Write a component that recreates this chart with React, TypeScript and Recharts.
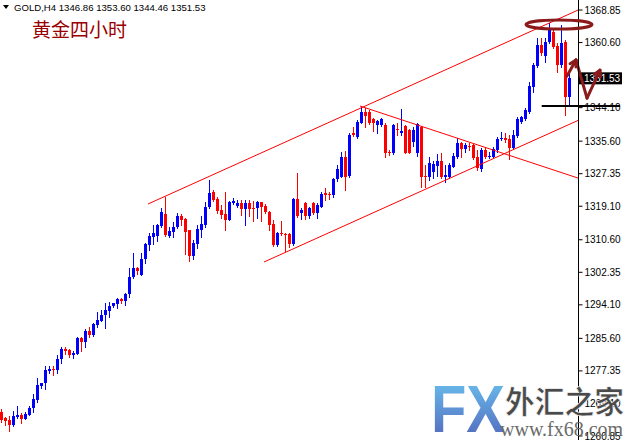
import React from 'react';
import { ComposedChart, Bar, XAxis, YAxis, ReferenceLine, ReferenceDot } from 'recharts';

const opens = [
  1267.0, 1265.4, 1264.9, 1263.6, 1265.6, 1266.2, 1265.2, 1266.2, 1267.9, 1270.0,
  1273.5, 1274.4, 1277.3, 1277.9, 1277.6, 1280.3, 1282.9, 1282.6, 1281.5, 1281.7,
  1285.6, 1284.7, 1287.5, 1286.4, 1289.1, 1290.1, 1291.4, 1292.6, 1293.9, 1294.2,
  1295.6, 1295.1, 1296.8, 1301.1, 1303.4, 1301.7, 1305.6, 1309.3, 1311.4, 1311.5,
  1314.1, 1317.1, 1311.6, 1312.6, 1313.8, 1316.6, 1315.9, 1313.1, 1306.6, 1309.5,
  1313.1, 1314.3, 1318.8, 1322.6, 1320.9, 1318.1, 1317.1, 1315.6, 1319.8, 1319.2,
  1319.8, 1318.4, 1319.8, 1318.7, 1318.6, 1320.1, 1319.2, 1317.7, 1314.6, 1309.3,
  1312.2, 1312.1, 1312.1, 1309.5, 1320.9, 1317.5, 1319.8, 1316.5, 1319.8, 1317.3,
  1319.0, 1322.4, 1322.1, 1321.9, 1325.9, 1326.6, 1331.7, 1326.8, 1337.7, 1336.7,
  1340.3, 1343.1, 1343.1, 1341.1, 1339.7, 1339.7, 1339.7, 1332.9, 1332.5, 1338.6,
  1337.7, 1339.4, 1338.4, 1335.5, 1332.5, 1339.3, 1326.8, 1326.6, 1327.7, 1329.3,
  1330.6, 1326.6, 1326.4, 1329.1, 1331.7, 1335.1, 1333.5, 1334.4, 1334.6, 1331.7,
  1328.5, 1333.4, 1331.5, 1331.7, 1333.4, 1336.1, 1336.5, 1336.1, 1333.8, 1336.9,
  1340.5, 1341.1, 1343.1, 1349.3, 1354.7, 1360.0, 1357.2, 1360.8, 1363.4, 1359.7,
  1354.9, 1360.8, 1346.86,
];
const highs = [
  1267.7, 1265.7, 1265.9, 1267.2, 1268.5, 1266.7, 1266.9, 1268.5, 1271.4, 1275.5,
  1274.4, 1278.6, 1278.6, 1278.6, 1281.4, 1283.5, 1283.3, 1282.8, 1282.4, 1285.9,
  1285.9, 1287.9, 1288.5, 1289.6, 1292.2, 1292.8, 1294.5, 1294.8, 1294.6, 1295.9,
  1295.9, 1297.2, 1303.4, 1307.3, 1303.8, 1307.3, 1309.9, 1312.4, 1314.3, 1314.6,
  1318.7, 1321.5, 1313.9, 1315.0, 1317.5, 1317.1, 1316.2, 1313.2, 1310.5, 1314.3,
  1316.6, 1320.3, 1325.7, 1323.2, 1321.5, 1319.4, 1322.8, 1320.4, 1321.1, 1320.7,
  1320.7, 1320.7, 1320.7, 1320.5, 1320.4, 1320.3, 1319.6, 1318.0, 1315.6, 1312.6,
  1315.4, 1312.2, 1312.2, 1321.1, 1327.5, 1318.6, 1320.2, 1318.9, 1320.2, 1319.8,
  1322.8, 1323.6, 1322.8, 1326.2, 1329.6, 1332.9, 1333.1, 1337.6, 1339.3, 1341.0,
  1344.5, 1343.9, 1343.5, 1341.4, 1341.0, 1341.4, 1340.1, 1333.4, 1339.9, 1340.1,
  1343.7, 1339.7, 1338.7, 1339.1, 1340.3, 1339.5, 1329.6, 1331.7, 1330.6, 1332.3,
  1332.7, 1329.6, 1330.0, 1332.5, 1336.3, 1335.5, 1335.2, 1335.1, 1335.1, 1333.4,
  1333.8, 1333.8, 1332.9, 1334.2, 1336.6, 1338.0, 1337.6, 1337.2, 1338.4, 1341.8,
  1342.0, 1344.0, 1350.7, 1355.3, 1361.7, 1361.7, 1361.7, 1365.6, 1363.8, 1360.6,
  1365.1, 1361.2, 1353.60,
];
const lows = [
  1264.5, 1263.6, 1262.2, 1263.4, 1265.5, 1264.2, 1265.1, 1266.1, 1267.0, 1269.5,
  1273.1, 1272.8, 1276.7, 1276.3, 1276.7, 1279.4, 1281.6, 1280.9, 1280.6, 1281.6,
  1282.5, 1283.5, 1286.0, 1286.2, 1288.6, 1289.9, 1288.3, 1291.1, 1293.6, 1293.4,
  1294.6, 1294.1, 1296.0, 1300.9, 1301.9, 1301.6, 1304.8, 1308.0, 1309.5, 1310.4,
  1313.9, 1311.6, 1311.4, 1311.4, 1313.6, 1314.3, 1307.0, 1305.3, 1305.6, 1308.4,
  1311.4, 1313.9, 1318.7, 1320.4, 1317.3, 1316.0, 1313.1, 1315.5, 1319.7, 1319.0,
  1316.9, 1314.3, 1316.7, 1315.4, 1316.0, 1315.4, 1317.5, 1313.1, 1309.0, 1309.0,
  1311.8, 1307.8, 1308.8, 1309.3, 1316.4, 1315.8, 1315.8, 1316.1, 1317.1, 1316.0,
  1318.8, 1320.7, 1320.9, 1321.5, 1325.6, 1326.4, 1323.2, 1326.6, 1337.0, 1336.3,
  1340.1, 1339.1, 1339.9, 1338.3, 1337.7, 1339.5, 1331.5, 1332.1, 1332.3, 1337.2,
  1337.2, 1332.6, 1332.5, 1334.4, 1331.8, 1324.0, 1324.0, 1325.8, 1326.2, 1326.8,
  1326.2, 1325.3, 1326.2, 1329.0, 1331.3, 1331.7, 1332.9, 1333.4, 1331.0, 1328.3,
  1328.1, 1331.3, 1331.3, 1331.5, 1332.9, 1335.9, 1335.5, 1331.0, 1333.5, 1336.7,
  1340.3, 1341.0, 1342.7, 1348.1, 1354.3, 1357.4, 1355.7, 1360.6, 1359.1, 1353.2,
  1354.5, 1342.2, 1344.46,
];
const closes = [
  1264.9, 1264.7, 1263.6, 1265.9, 1266.2, 1265.2, 1266.3, 1268.0, 1270.2, 1273.8,
  1274.2, 1277.6, 1277.8, 1277.6, 1280.3, 1282.9, 1282.4, 1281.5, 1282.0, 1285.6,
  1284.7, 1287.5, 1286.4, 1289.2, 1290.3, 1291.6, 1292.8, 1293.9, 1294.5, 1295.6,
  1295.1, 1296.8, 1301.2, 1303.4, 1302.6, 1305.7, 1309.5, 1311.5, 1312.3, 1314.3,
  1317.6, 1311.8, 1312.8, 1313.9, 1316.6, 1315.6, 1312.5, 1306.6, 1309.7, 1313.3,
  1314.6, 1318.8, 1322.4, 1320.7, 1318.0, 1316.9, 1315.6, 1320.3, 1320.4, 1319.8,
  1318.4, 1319.8, 1318.4, 1318.5, 1320.1, 1319.0, 1317.7, 1314.3, 1309.3, 1312.4,
  1312.0, 1311.9, 1309.5, 1320.9, 1316.6, 1318.1, 1316.5, 1318.6, 1317.3, 1319.4,
  1322.2, 1321.9, 1321.9, 1325.9, 1328.5, 1331.7, 1326.6, 1337.2, 1337.2, 1340.5,
  1343.1, 1342.0, 1340.1, 1340.1, 1340.8, 1341.1, 1332.7, 1332.5, 1339.7, 1338.4,
  1338.3, 1332.7, 1332.7, 1338.4, 1340.0, 1326.6, 1326.4, 1330.0, 1329.8, 1330.6,
  1326.6, 1327.0, 1329.6, 1331.9, 1335.1, 1333.5, 1334.6, 1334.0, 1331.3, 1328.7,
  1333.4, 1331.7, 1331.9, 1333.5, 1336.1, 1336.5, 1335.9, 1333.8, 1337.2, 1341.1,
  1341.6, 1343.5, 1349.6, 1354.9, 1360.0, 1357.9, 1360.8, 1363.8, 1359.4, 1354.9,
  1360.4, 1346.8, 1351.53,
];

const priceTicks = [1368.85, 1360.6, 1344.1, 1335.6, 1327.35, 1319.1, 1310.6, 1302.35, 1294.1, 1285.6, 1277.35, 1269.1, 1260.85];
const lastClose = 1351.53;
const symbolLabel = 'GOLD,H4';
const headerValues = ['1346.86', '1353.60', '1344.46', '1351.53'];
const chartTitle = '黄金四小时';
const wmBig = 'FX';
const wmCn = '外汇之家';
const wmUrl = 'www.fx68.com';

const upperChannel = [{ x: 36.625, y: 1319.67 }, { x: 144.25, y: 1368.89 }];
const lowerChannel = [{ x: 65.625, y: 1304.96 }, { x: 144.25, y: 1340.91 }];
const descLine = [{ x: 89.625, y: 1344.51 }, { x: 144.25, y: 1326.2 }];
const supportLine = [{ x: 135.05, y: 1344.5 }, { x: 154.6, y: 1344.5 }];
const ellipseCenter = { x: 139.375, y: 1365.18 };
const arrowPts = [
  { x: 141.375, y: 1352.1 },
  { x: 143.625, y: 1356.2 },
  { x: 146.375, y: 1346.5 },
  { x: 149.625, y: 1353.6 },
];

const data = opens.map((o, i) => ({
  t: i,
  o,
  h: highs[i],
  l: lows[i],
  c: closes[i],
  range: [lows[i], highs[i]],
}));

const FONT = 'Liberation Sans, Arial, sans-serif';

const Candle = (props: any) => {
  const { x, y, width, height, payload } = props;
  if (!payload || x == null) return null;
  const { o, h, l, c } = payload;
  const top = Math.min(y, y + height);
  const hh = Math.abs(height);
  const cx = Math.floor(x + width / 2) + 0.5;
  const span = h - l || 1;
  const py = (p: number) => top + ((h - p) / span) * hh;
  const color = c >= o ? '#0000ff' : '#ff0000';
  const bt = Math.round(py(Math.max(o, c)));
  const bb = Math.round(py(Math.min(o, c)));
  return (
    <g>
      <line x1={cx} x2={cx} y1={Math.round(top)} y2={Math.round(top + hh) + 1} stroke={color} strokeWidth={1} />
      <rect x={cx - 1.5} y={bt} width={3} height={Math.max(1, bb - bt)} fill={color} />
    </g>
  );
};

const PriceTick = (props: any) => {
  const { x, y, payload } = props;
  return (
    <text x={x} y={y} dy="0.36em" fill="#000" fontSize={10} fontFamily={FONT} textAnchor="start">
      {Number(payload.value).toFixed(2)}
    </text>
  );
};

const PriceBox = (props: any) => {
  const vb = props.viewBox || {};
  if (vb.x == null) return null;
  const right = vb.x + (vb.width || 0);
  const y = vb.y;
  return (
    <g>
      <rect x={right + 0.5} y={y - 6} width={43} height={12} fill="#000" />
      <text x={right + 5.5} y={y} dy="0.36em" fill="#fff" fontSize={10} fontFamily={FONT} textAnchor="start">
        {lastClose.toFixed(2)}
      </text>
    </g>
  );
};

const headShape = (color: string, withHead: boolean) => (props: any) => {
  const { x1, y1, x2, y2 } = props;
  if (x1 == null) return null;
  const ang = Math.atan2(y2 - y1, x2 - x1);
  const L = 7;
  const a1 = ang + Math.PI - 0.5;
  const a2 = ang + Math.PI + 0.5;
  return (
    <g>
      <line x1={x1} y1={y1} x2={x2} y2={y2} stroke={color} strokeWidth={3} strokeLinecap="round" />
      {withHead && (
        <polyline
          points={`${x2 + L * Math.cos(a1)},${y2 + L * Math.sin(a1)} ${x2},${y2} ${x2 + L * Math.cos(a2)},${y2 + L * Math.sin(a2)}`}
          fill="none"
          stroke={color}
          strokeWidth={3}
          strokeLinecap="round"
          strokeLinejoin="round"
        />
      )}
    </g>
  );
};

const annColor = '#8b1a1a';

export default function App() {
  return (
    <div style={{ position: 'absolute', left: 0, top: 0, width: 625, height: 440, background: '#fff', overflow: 'hidden' }}>
      <ComposedChart width={625} height={440} data={data} margin={{ top: 0, right: 0, bottom: 0, left: 0 }}>
        <XAxis dataKey="t" type="number" domain={[-0.375, 144.25]} hide height={0} allowDataOverflow />
        <YAxis
          orientation="right"
          width={46.5}
          domain={[1259.83, 1371.39]}
          allowDataOverflow
          ticks={priceTicks}
          interval={0}
          tick={<PriceTick />}
          tickSize={4}
          tickMargin={2}
          tickLine={{ stroke: '#000' }}
          axisLine={{ stroke: '#000' }}
        />
        <Bar dataKey="range" shape={<Candle />} isAnimationActive={false} barSize={4} />
        <ReferenceLine segment={upperChannel} stroke="#ff0000" strokeWidth={1} ifOverflow="visible" />
        <ReferenceLine segment={lowerChannel} stroke="#ff0000" strokeWidth={1} ifOverflow="visible" />
        <ReferenceLine segment={descLine} stroke="#ff0000" strokeWidth={1} ifOverflow="visible" />
        <ReferenceLine y={lastClose} stroke="none" ifOverflow="visible" label={<PriceBox />} />
        <ReferenceLine segment={supportLine} stroke="#000" strokeWidth={2} ifOverflow="visible" />
        <ReferenceDot
          x={ellipseCenter.x}
          y={ellipseCenter.y}
          ifOverflow="visible"
          shape={(p: any) => <ellipse cx={p.cx} cy={p.cy} rx={33} ry={4.5} fill="none" stroke={annColor} strokeWidth={3} />}
        />
        <ReferenceLine segment={[arrowPts[0], arrowPts[1]]} ifOverflow="visible" shape={headShape(annColor, true)} />
        <ReferenceLine segment={[arrowPts[1], arrowPts[2]]} ifOverflow="visible" shape={headShape(annColor, false)} />
        <ReferenceLine segment={[arrowPts[2], arrowPts[3]]} ifOverflow="visible" shape={headShape(annColor, true)} />
      </ComposedChart>
      <svg width={625} height={440} style={{ position: 'absolute', left: 0, top: 0, pointerEvents: 'none' }}>
        <defs>
          <linearGradient id="fxgrad" x1="0" y1="0" x2="0" y2="1">
            <stop offset="0%" stopColor="#6cc8f2" />
            <stop offset="100%" stopColor="#5060b8" />
          </linearGradient>
        </defs>
        <polygon points="3,5 9,5 6,9" fill="#000" />
        <text x={14} y={11} fontSize={9.6} fontFamily={FONT} fill="#000">
          {symbolLabel + '  ' + headerValues.join(' ')}
        </text>
        <text x={32} y={37} fontSize={19} fontFamily="Noto Sans CJK SC" fill="#990000">
          {chartTitle}
        </text>
        <text x={431} y={432} fontSize={66} fontWeight="bold" fontFamily={FONT} fill="url(#fxgrad)" textLength={74} lengthAdjust="spacingAndGlyphs">
          {wmBig}
        </text>
        <text x={505} y={413} fontSize={31} fontWeight="bold" fontFamily="Noto Sans CJK SC" fill="#4a4a4a" stroke="#ffffff" strokeWidth={0.6} textLength={119} lengthAdjust="spacingAndGlyphs">
          {wmCn}
        </text>
        <text x={500} y={436} fontSize={20} fontFamily="Liberation Serif, serif" fill="#6a6a6a">
          {wmUrl}
        </text>
      </svg>
    </div>
  );
}
